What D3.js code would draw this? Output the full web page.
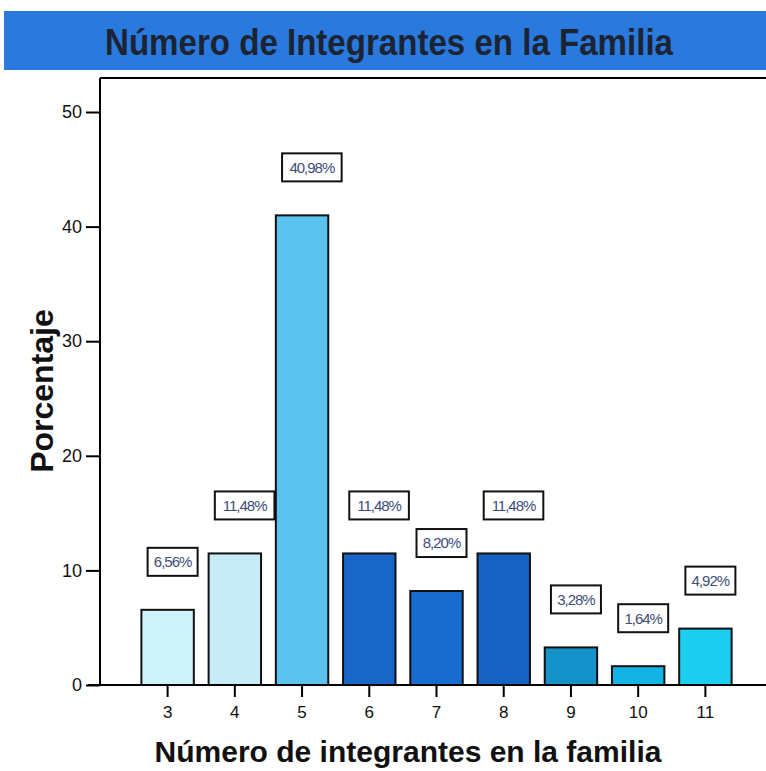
<!DOCTYPE html>
<html>
<head>
<meta charset="utf-8">
<script src="https://cdn.jsdelivr.net/npm/d3@7"></script>
<style>
  body { margin: 0; background: #fff; }
</style>
</head>
<body>
<div class="root"></div>
<script>
const categories = ['3', '4', '5', '6', '7', '8', '9', '10', '11'];
const values = [6.56, 11.48, 40.98, 11.48, 8.20, 11.48, 3.28, 1.64, 4.92];
const labels = ['6,56%', '11,48%', '40,98%', '11,48%', '8,20%', '11,48%', '3,28%', '1,64%', '4,92%'];
const barColors = ['#cff3fa', '#c6ecf8', '#5cc3ee', '#1766c8', '#196ccf', '#1662c2', '#1592c9', '#14b5e6', '#1ccff0'];
const yTicks = [0, 10, 20, 30, 40, 50];

const width = 766, height = 771;
const margin = { top: 78, left: 100, bottom: 86, right: 0 };

const svg = d3.select('.root')
  .append('svg')
  .attr('width', width)
  .attr('height', height);

// title band
svg.append('rect')
  .attr('x', 4).attr('y', 11)
  .attr('width', width - 4).attr('height', 59)
  .attr('fill', '#2a79dc');

svg.append('text')
  .attr('x', 389).attr('y', 55)
  .attr('text-anchor', 'middle')
  .attr('font-family', 'Arial, "Liberation Sans", sans-serif')
  .attr('font-weight', 'bold')
  .attr('font-size', 36)
  .attr('fill', '#1c2434')
  .attr('textLength', 568)
  .attr('lengthAdjust', 'spacingAndGlyphs')
  .text('Número de Integrantes en la Familia');

const x = d3.scaleBand()
  .domain(categories)
  .range([134, 739])
  .paddingInner(0.22)
  .paddingOuter(0.11);

const y = d3.scaleLinear()
  .domain([0, 50])
  .range([685, 112]);

const g = svg.append('g');

// frame
g.append('line')
  .attr('x1', margin.left).attr('x2', width)
  .attr('y1', margin.top).attr('y2', margin.top)
  .attr('stroke', '#000').attr('stroke-width', 2);

g.selectAll('.bar')
  .data(values)
  .enter()
  .append('rect')
  .attr('class', 'bar')
  .attr('x', (d, i) => x(categories[i]))
  .attr('y', d => y(d))
  .attr('width', x.bandwidth())
  .attr('height', d => y(0) - y(d))
  .attr('fill', (d, i) => barColors[i])
  .attr('stroke', '#111')
  .attr('stroke-width', 2);

// y axis
const yAxis = g.append('g')
  .attr('transform', `translate(${margin.left}, 0)`)
  .call(d3.axisLeft(y).tickValues(yTicks).tickSize(14).tickPadding(4));
yAxis.select('.domain').attr('d', `M0,${margin.top}V${y(0)}`).attr('stroke-width', 2);
yAxis.selectAll('.tick line').attr('stroke-width', 2);
yAxis.selectAll('.tick text')
  .attr('font-family', 'Arial, "Liberation Sans", sans-serif')
  .attr('font-size', 18)
  .attr('fill', '#111');

// x axis
const xAxis = g.append('g')
  .attr('transform', `translate(0, ${y(0)})`)
  .call(d3.axisBottom(x).tickSize(12).tickPadding(9));
xAxis.select('.domain').attr('d', `M88,0H${width}`).attr('stroke-width', 2);
xAxis.selectAll('.tick line').attr('stroke-width', 2);
xAxis.selectAll('.tick text')
  .attr('font-family', 'Arial, "Liberation Sans", sans-serif')
  .attr('font-size', 17)
  .attr('fill', '#111');

// value labels
const lab = g.selectAll('.lab')
  .data(values)
  .enter()
  .append('g')
  .attr('class', 'lab')
  .attr('transform', (d, i) => `translate(${x(categories[i]) + x.bandwidth() / 2 - 20}, ${y(d) - 48})`);

lab.append('rect')
  .attr('x', 0)
  .attr('y', -14)
  .attr('width', (d, i) => labels[i].length * 9.6 + 2)
  .attr('height', 28)
  .attr('fill', '#fff')
  .attr('stroke', '#111')
  .attr('stroke-width', 2);

lab.append('text')
  .attr('x', (d, i) => (labels[i].length * 9.6 + 2) / 2)
  .attr('text-anchor', 'middle')
  .attr('dy', '0.36em')
  .attr('font-family', 'Arial, "Liberation Sans", sans-serif')
  .attr('font-size', 15)
  .attr('letter-spacing', -1)
  .attr('fill', '#3d4d7a')
  .text((d, i) => labels[i]);

// axis titles
svg.append('text')
  .attr('transform', 'translate(53, 391) rotate(-90)')
  .attr('text-anchor', 'middle')
  .attr('font-family', 'Arial, "Liberation Sans", sans-serif')
  .attr('font-weight', 'bold')
  .attr('font-size', 32)
  .attr('fill', '#111')
  .text('Porcentaje');

svg.append('text')
  .attr('x', 408).attr('y', 762)
  .attr('text-anchor', 'middle')
  .attr('font-family', 'Arial, "Liberation Sans", sans-serif')
  .attr('font-weight', 'bold')
  .attr('font-size', 30)
  .attr('fill', '#111')
  .text('Número de integrantes en la familia');
</script>
</body>
</html>
